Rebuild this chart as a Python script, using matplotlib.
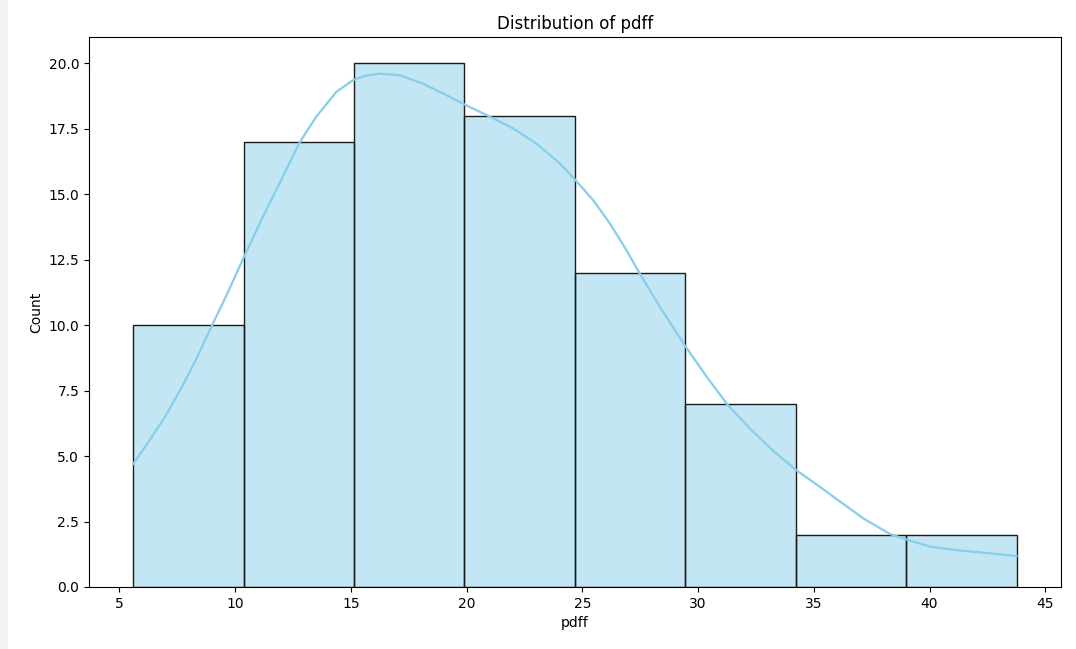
import numpy as np
import matplotlib.pyplot as plt
from matplotlib.patches import Rectangle

# Histogram bins of pdff and their counts
bin_edges = [5.60, 10.37, 15.14, 19.91, 24.68, 29.45, 34.22, 38.99, 43.76]
counts = [10, 17, 20, 18, 12, 7, 2, 2]

# Density curve, scaled to counts
kde_x = [5.60, 6.30, 7.02, 7.74, 8.32, 9.01, 9.61, 10.33, 11.20, 12.06,
         12.78, 13.50, 14.37, 15.09, 15.60, 16.24, 17.11, 18.12, 19.13, 19.92,
         20.86, 22.01, 23.02, 24.03, 24.68, 25.47, 26.19, 26.91, 27.46, 28.35,
         29.43, 30.37, 31.26, 32.24, 33.25, 34.20, 35.35, 36.20, 37.14, 38.30,
         38.98, 40.03, 41.32, 42.48, 43.76]
kde_y = [4.70, 5.59, 6.56, 7.70, 8.70, 10.00, 11.10, 12.50, 14.13, 15.66,
         16.96, 17.95, 18.90, 19.35, 19.52, 19.60, 19.54, 19.22, 18.78, 18.42,
         18.02, 17.51, 16.93, 16.17, 15.56, 14.77, 13.88, 12.86, 12.00, 10.70,
         9.22, 8.03, 6.98, 6.05, 5.20, 4.49, 3.77, 3.22, 2.62, 2.02,
         1.82, 1.54, 1.39, 1.30, 1.18]

fig = plt.figure(figsize=(10.76, 6.49), dpi=100)
fig.patches.append(Rectangle((0, 0), 8 / 1076, 1, transform=fig.transFigure,
                             facecolor='#f2f2f2', edgecolor='none', zorder=0))
ax = fig.add_axes([89 / 1076, 1 - 587 / 649, (1061 - 89) / 1076, (587 - 37) / 649])

ax.bar(bin_edges[:-1], counts, width=np.diff(bin_edges), align='edge',
       color='skyblue', alpha=0.5, edgecolor='none')
ax.bar(bin_edges[:-1], counts, width=np.diff(bin_edges), align='edge',
       fill=False, edgecolor='#1a1a1a', linewidth=1.0)
ax.plot(kde_x, kde_y, color='skyblue', linewidth=1.6, solid_joinstyle='round')

ax.set_xlim(3.69, 45.68)
ax.set_ylim(0, 21)
ax.set_xticks(range(5, 46, 5))
ax.set_yticks(np.arange(0, 20.1, 2.5))
ax.set_yticklabels([f'{v:.1f}' for v in np.arange(0, 20.1, 2.5)])
ax.set_xlabel('pdff')
ax.set_ylabel('Count')
ax.set_title('Distribution of pdff')

fig.savefig('out.png', dpi=100)
